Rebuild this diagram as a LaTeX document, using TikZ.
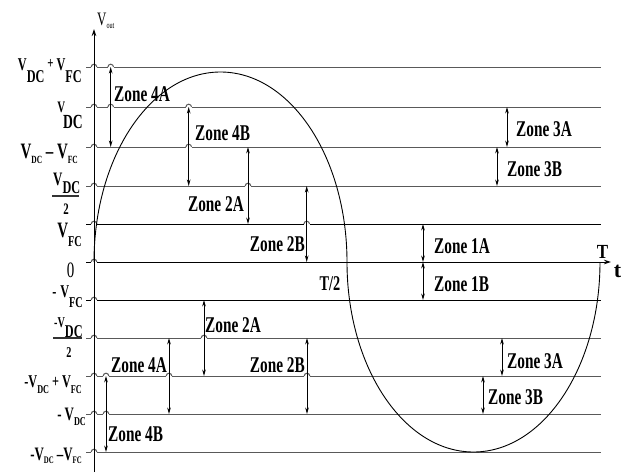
\documentclass[tikz,border=0pt]{standalone}
\usepackage{fontspec}
\setmainfont{Liberation Serif}
\newfontfamily\cf{Liberation Serif}[FakeStretch=0.68]
\newfontfamily\tf{Liberation Serif}[FakeStretch=0.85]
\usetikzlibrary{arrows.meta}
\newcommand\sbs[3]{\raisebox{#1}{\fontsize{#2}{#2}\selectfont #3}}
\tikzset{
  gridline/.style={line width=1pt, draw=black!65},
  darkline/.style={line width=1pt, draw=black},
  axisline/.style={line width=0.9pt, draw=black},
  curveline/.style={line width=0.9pt, draw=black},
  zarr/.style={line width=0.9pt, {Stealth[length=6.5pt,width=3.6pt]}-{Stealth[length=6.5pt,width=3.6pt]}},
  zlab/.style={font=\cf\bfseries\fontsize{22.5}{24}\selectfont, inner sep=0pt},
  vlab/.style={font=\cf\bfseries, inner sep=0pt},
  fracbar/.style={line width=1.1pt, draw=black!80},
}
\newcommand\zarrow[4]{%
  \coordinate (#1s) at (#2,#3);
  \coordinate (#1e) at (#2,#4);
  \draw[zarr] (#1s) -- (#1e);}
\begin{document}
\begin{tikzpicture}[x=1pt,y=-1pt]
\useasboundingbox (0,0) rectangle (630,474);
\fill[white] (0,0) rectangle (630,474);

% level lines
\foreach \i/\y in {1/67,2/107,3/147,4/186,8/338,9/376,10/414,11/452}{
  \coordinate (hl\i) at (86,\y);
  \coordinate (hr\i) at (601,\y);
  \draw[gridline] (hl\i) -- (hr\i);
}
\foreach \i/\y in {5/224,7/300}{
  \coordinate (hl\i) at (86,\y);
  \coordinate (hr\i) at (601,\y);
  \draw[darkline] (hl\i) -- (hr\i);
}
\coordinate (hl6) at (86,262);
\coordinate (hr6) at (611,262);
\draw[darkline, -{Stealth[length=7pt,width=4.5pt]}] (hl6) -- (hr6);

% hops over the axis and arrows
\foreach \x/\y in {94/67,94/107,94/147,94/186,94/224,94/262,94/300,94/338,94/376,94/414,94/452,
                   110.7/67,110.7/107,188.7/107,188.7/147,248/186,306.7/224,
                   204/338,169/376,307/376,106/376,106/414}{
  \fill[white] (\x-3,\y-1.3) rectangle (\x+3,\y+1.3);
  \draw[gridline] (\x-2.8,\y) arc[start angle=180,end angle=0,radius=2.8pt];
}

% vertical axis
\coordinate (ab) at (94,472);
\coordinate (at) at (94,29);
\draw[axisline, -{Stealth[length=7pt,width=4.5pt]}] (ab) -- (at);

% waveform: two half ellipses
\draw[curveline] (94,262) arc[start angle=180, end angle=0, x radius=126.5pt, y radius=190pt]
                 arc[start angle=180, end angle=360, x radius=126.5pt, y radius=190pt];

% zone arrows
\zarrow{u4A}{110.7}{67}{147}
\zarrow{u4B}{188.7}{107}{186}
\zarrow{u2A}{248}{147}{224}
\zarrow{u2B}{306.7}{186}{262}
\zarrow{u3A}{507}{107}{147}
\zarrow{u3B}{497}{147}{186}
\zarrow{z1A}{423}{224}{262}
\zarrow{z1B}{423}{262}{300}
\zarrow{l2A}{204}{300}{376}
\zarrow{l4A}{169}{338}{414}
\zarrow{l2B}{307}{338}{414}
\zarrow{l3A}{502}{338}{376}
\zarrow{l3B}{483}{376}{414}
\zarrow{l4B}{106}{376}{452}

% zone labels
\node[zlab, anchor=base west] (t4Au) at (114,101) {Zone 4A};
\node[zlab, anchor=base west] (t4Bu) at (195,140.5) {Zone 4B};
\node[zlab, anchor=base east] (t2Au) at (244,211.5) {Zone 2A};
\node[zlab, anchor=base east] (t2Bu) at (305,251.5) {Zone 2B};
\node[zlab, anchor=base west] (t3Au) at (516,136) {Zone 3A};
\node[zlab, anchor=base west] (t3Bu) at (507,176) {Zone 3B};
\node[zlab, anchor=base west] (t1A) at (434,253) {Zone 1A};
\node[zlab, anchor=base west] (t1B) at (434,291.5) {Zone 1B};
\node[zlab, anchor=base west] (t3Al) at (507,368) {Zone 3A};
\node[zlab, anchor=base west] (t3Bl) at (488,404) {Zone 3B};
\node[zlab, anchor=base west] (t2Al) at (205,332.5) {Zone 2A};
\node[zlab, anchor=base west] (t4Al) at (111,372) {Zone 4A};
\node[zlab, anchor=base east] (t2Bl) at (305,372) {Zone 2B};
\node[zlab, anchor=base west] (t4Bl) at (108,441.5) {Zone 4B};

% axis labels
\node[anchor=base west, font=\cf\fontsize{19}{19}\selectfont, inner sep=0pt] (vout) at (97,25) {V\sbs{-3pt}{9}{out}};
\node[anchor=base, font=\tf\bfseries\fontsize{20}{20}\selectfont, inner sep=0pt] (tT) at (602.5,258) {T};
\node[anchor=base, font=\bfseries\fontsize{22}{22}\selectfont, inner sep=0pt] (tt) at (617.5,277) {t};
\node[anchor=base, font=\cf\bfseries\fontsize{21}{21}\selectfont, inner sep=0pt] (tT2) at (330,290) {T/2};

% level labels
\node[vlab, anchor=base east] (lv1) at (82,70) {\fontsize{18}{18}\selectfont V\sbs{-12pt}{18}{DC}\,\raisebox{2pt}{\fontsize{16}{16}\selectfont +}\,V\sbs{-12pt}{18}{FC}};
\node[vlab, anchor=base east] (lv2) at (83,112) {\fontsize{16}{16}\selectfont V\kern-2pt\sbs{-16pt}{20}{DC}};
\node[vlab, anchor=base east] (lv3) at (78,158) {\fontsize{22}{22}\selectfont V\sbs{-5pt}{11}{DC}\,–\,V\sbs{-5pt}{11}{FC}};
\node[vlab, anchor=base west] (lv4n) at (53,185) {\fontsize{19}{19}\selectfont V\sbs{-8pt}{18}{DC}};
\draw[fracbar] (52,196) -- (79,196);
\node[vlab, anchor=base] (lv4d) at (66,214) {\fontsize{16}{16}\selectfont 2};
\node[vlab, anchor=base east] (lv5) at (82,237) {\fontsize{22}{22}\selectfont V\sbs{-9pt}{15}{FC}};
\node[anchor=base, font=\cf\fontsize{22}{22}\selectfont, inner sep=0pt] (lv6) at (70.5,277) {0};
\node[vlab, anchor=base east] (lv7) at (83,297) {\fontsize{18}{18}\selectfont -\kern4pt V\sbs{-10pt}{15}{FC}};
\node[vlab, anchor=base west] (lv8n) at (54,327) {\fontsize{15}{15}\selectfont -V\sbs{-10pt}{18}{DC}};
\draw[fracbar] (53,338) -- (82,338);
\node[vlab, anchor=base] (lv8d) at (69,357) {\fontsize{15}{15}\selectfont 2};
\node[vlab, anchor=base east] (lv9) at (82,387) {\fontsize{18}{18}\selectfont -V\sbs{-6pt}{12}{DC}\,+\,V\sbs{-6pt}{12}{FC}};
\node[vlab, anchor=base east] (lv10) at (86,420) {\fontsize{19}{19}\selectfont -\kern3pt V\sbs{-5pt}{12}{DC}};
\node[vlab, anchor=base east] (lv11) at (82,460) {\fontsize{19}{19}\selectfont -V\sbs{-3pt}{10}{DC}\,–V\sbs{-3pt}{10}{FC}};
\end{tikzpicture}
\end{document}
